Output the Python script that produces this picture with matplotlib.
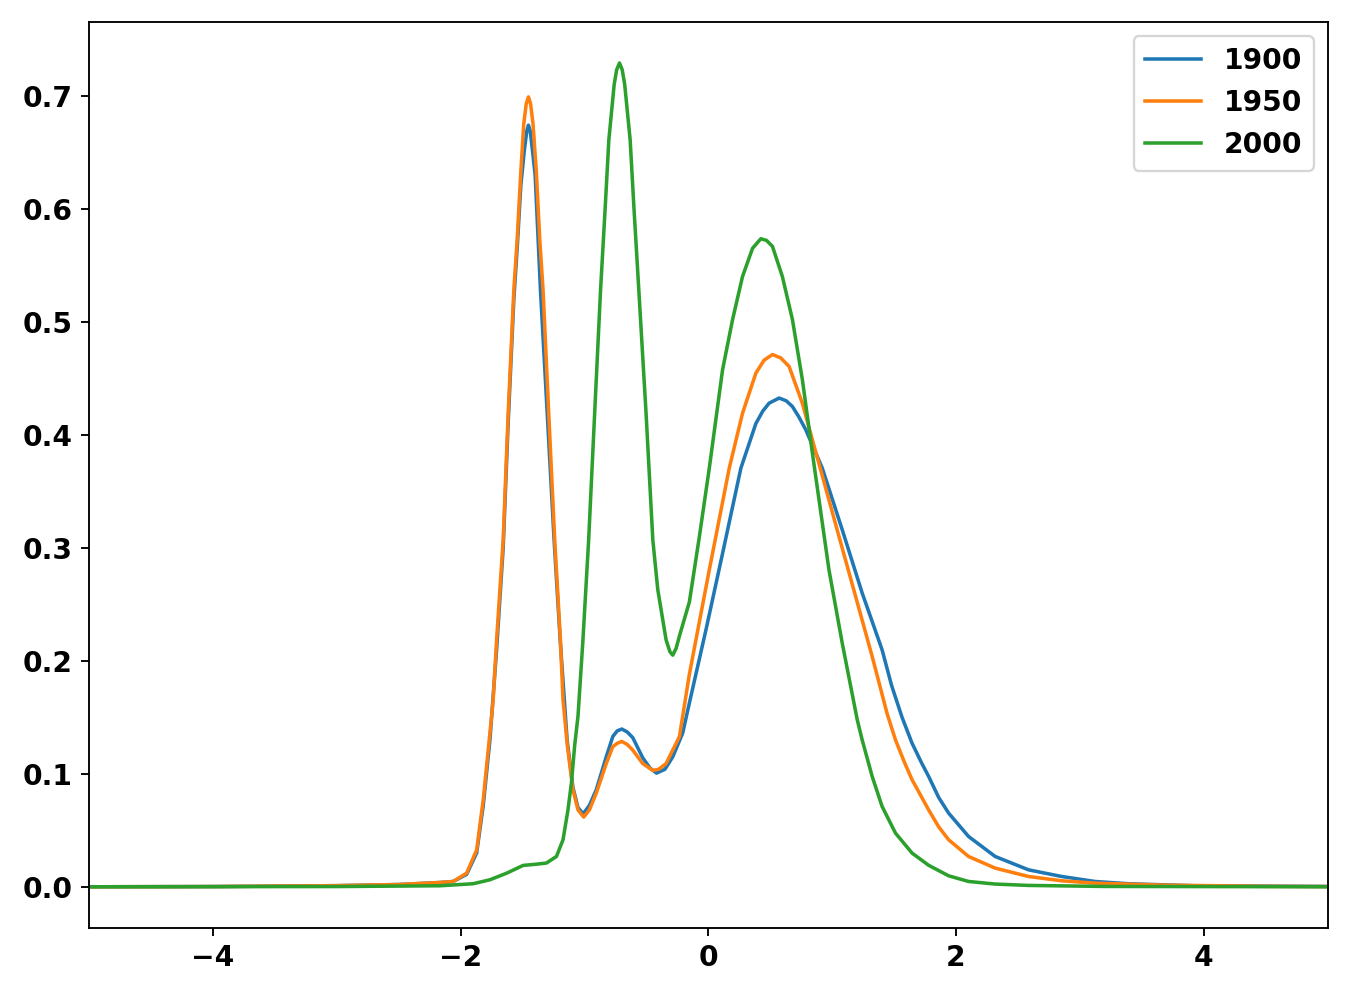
import matplotlib
matplotlib.use('Agg')
import matplotlib.pyplot as plt

# values (x, density) for each year
x_1900 = [-5.0, -4.0, -3.0, -2.5, -2.166, -2.059, -1.951, -1.870, -1.817, -1.763,
          -1.709, -1.656, -1.616, -1.570, -1.543, -1.514, -1.485, -1.465, -1.452,
          -1.438, -1.420, -1.398, -1.355, -1.300, -1.245, -1.196, -1.140, -1.093,
          -1.052, -1.010, -0.960, -0.904, -0.824, -0.771, -0.735, -0.698, -0.655,
          -0.610, -0.529, -0.470, -0.418, -0.350, -0.287, -0.207, -0.153, -0.019,
          0.115, 0.263, 0.384, 0.440, 0.491, 0.572, 0.630, 0.679, 0.730, 0.787,
          0.920, 1.081, 1.242, 1.403, 1.480, 1.564, 1.645, 1.720, 1.779, 1.860,
          1.940, 2.101, 2.316, 2.585, 2.853, 3.121, 3.390, 3.927, 5.0]
y_1900 = [0.0, 0.0002, 0.001, 0.002, 0.0038, 0.0047, 0.011, 0.030, 0.072, 0.130,
          0.210, 0.300, 0.410, 0.520, 0.565, 0.620, 0.652, 0.669, 0.674,
          0.669, 0.652, 0.630, 0.528, 0.418, 0.307, 0.2186, 0.130, 0.088,
          0.070, 0.0646, 0.072, 0.086, 0.115, 0.133, 0.138, 0.1396, 0.137,
          0.132, 0.114, 0.105, 0.1006, 0.104, 0.115, 0.136, 0.1626, 0.2274,
          0.295, 0.3705, 0.410, 0.421, 0.428, 0.4325, 0.430, 0.425, 0.416, 0.4044,
          0.3705, 0.316, 0.260, 0.2097, 0.178, 0.150, 0.127, 0.110, 0.0976, 0.079,
          0.0652, 0.0445, 0.0268, 0.015, 0.0091, 0.0047, 0.0027, 0.0009, 0.0003]

x_1950 = [-5.0, -4.0, -3.0, -2.5, -2.166, -2.059, -1.951, -1.870, -1.817, -1.763,
          -1.737, -1.709, -1.656, -1.616, -1.570, -1.543, -1.514, -1.490, -1.470,
          -1.452, -1.435, -1.415, -1.388, -1.361, -1.334, -1.288, -1.240, -1.194,
          -1.173, -1.138, -1.093, -1.052, -1.006, -0.960, -0.904, -0.824, -0.771,
          -0.735, -0.698, -0.655, -0.610, -0.529, -0.448, -0.400, -0.341, -0.233,
          -0.153, 0.008, 0.169, 0.276, 0.384, 0.450, 0.518, 0.585, 0.652, 0.759,
          0.840, 0.907, 1.055, 1.189, 1.323, 1.444, 1.511, 1.580, 1.645, 1.779,
          1.860, 1.940, 2.101, 2.316, 2.585, 2.853, 3.121, 3.658, 4.5, 5.0]
y_1950 = [0.0, 0.0002, 0.001, 0.002, 0.0038, 0.0047, 0.0121, 0.0327, 0.077, 0.136,
          0.1655, 0.2186, 0.307, 0.418, 0.528, 0.573, 0.632, 0.675, 0.693,
          0.699, 0.693, 0.675, 0.632, 0.573, 0.528, 0.418, 0.307, 0.2186,
          0.1655, 0.125, 0.086, 0.068, 0.0617, 0.068, 0.083, 0.109, 0.124,
          0.127, 0.1286, 0.126, 0.121, 0.109, 0.103, 0.104, 0.109, 0.133,
          0.188, 0.2805, 0.3705, 0.419, 0.4546, 0.466, 0.471, 0.468, 0.4605, 0.428,
          0.3956, 0.369, 0.310, 0.257, 0.2038, 0.153, 0.130, 0.111, 0.0947, 0.068,
          0.053, 0.0416, 0.0268, 0.0165, 0.0091, 0.0053, 0.0032, 0.0015, 0.0004, 0.0002]

x_2000 = [-5.0, -3.0, -2.166, -1.898, -1.763, -1.629, -1.495, -1.387, -1.307, -1.226,
          -1.173, -1.133, -1.105, -1.079, -1.052, -1.012, -0.966, -0.918, -0.870,
          -0.832, -0.803, -0.760, -0.740, -0.717, -0.695, -0.675, -0.631, -0.601,
          -0.561, -0.502, -0.448, -0.408, -0.341, -0.310, -0.287, -0.260, -0.233,
          -0.153, -0.072, 0.008, 0.115, 0.196, 0.276, 0.357, 0.424, 0.470, 0.518,
          0.598, 0.679, 0.759, 0.840, 0.974, 1.081, 1.202, 1.242, 1.323, 1.403,
          1.511, 1.645, 1.779, 1.940, 2.101, 2.316, 2.585, 3.2, 5.0]
y_2000 = [0.0, 0.0002, 0.0009, 0.0027, 0.0062, 0.012, 0.0189, 0.020, 0.021, 0.0268,
          0.0416, 0.068, 0.092, 0.125, 0.151, 0.2186, 0.307, 0.418, 0.528,
          0.602, 0.661, 0.710, 0.723, 0.729, 0.723, 0.710, 0.661, 0.602,
          0.528, 0.418, 0.307, 0.263, 0.2186, 0.208, 0.205, 0.211, 0.222,
          0.252, 0.310, 0.3705, 0.4575, 0.502, 0.540, 0.565, 0.5735, 0.572, 0.5667,
          0.540, 0.502, 0.449, 0.384, 0.2805, 0.2157, 0.148, 0.130, 0.0976, 0.0711,
          0.0475, 0.0298, 0.019, 0.0097, 0.0047, 0.0024, 0.0012, 0.0003, 0.0]

plt.rcParams['font.weight'] = 'bold'
plt.rcParams['font.size'] = 12

fig, ax = plt.subplots(1)
fig.set_size_inches(8, 5.894)
fig.subplots_adjust(left=0.0658, right=0.982, top=0.978, bottom=0.0683)

ax.plot(x_1900, y_1900, label='1900')
ax.plot(x_1950, y_1950, label='1950')
ax.plot(x_2000, y_2000, label='2000')
ax.set_xlim(-5, 5)
ax.legend(loc='upper right')

fig.savefig('out.png', dpi=169)
